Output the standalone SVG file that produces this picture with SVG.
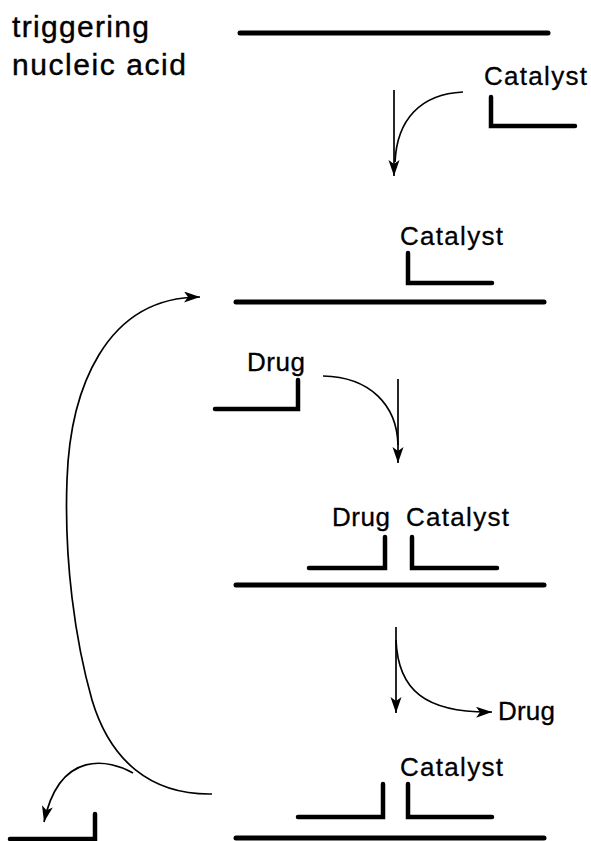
<svg xmlns="http://www.w3.org/2000/svg" width="591" height="841" viewBox="0 0 591 841">
<defs>
<marker id="ah" markerUnits="userSpaceOnUse" markerWidth="18" markerHeight="12" refX="16" refY="5.5" orient="auto">
<path d="M0,0 L16,5.5 L0,11 L4,5.5 Z" fill="#000"/>
</marker>
<style>
.strand{stroke:#000;stroke-width:5;stroke-linecap:round;fill:none}
.oligo{stroke:#000;stroke-width:4.5;stroke-linecap:round;stroke-linejoin:miter;fill:none}
.conn{stroke:#000;stroke-width:1.7;fill:none}
.lbl{font-family:"Liberation Sans",Arial,sans-serif;font-size:26px;fill:#000;stroke:#000;stroke-width:0.3}
.title{font-family:"Liberation Sans",Arial,sans-serif;font-size:30px;fill:#000;stroke:#000;stroke-width:0.4}
</style>
</defs>
<rect width="591" height="841" fill="#fff"/>
<g id="title">
<text class="title" x="12" y="37" textLength="137" lengthAdjust="spacing">triggering</text>
<text class="title" x="12" y="75" textLength="174" lengthAdjust="spacing">nucleic acid</text>
</g>
<g id="stage1">
<line class="strand" x1="240" y1="33" x2="548" y2="33"/>
<text class="lbl" x="484" y="85" textLength="103" lengthAdjust="spacing">Catalyst</text>
<path class="oligo" d="M491,97 V126 H575"/>
</g>
<g id="stage2">
<text class="lbl" x="400" y="245" textLength="103" lengthAdjust="spacing">Catalyst</text>
<path class="oligo" d="M408,253 V283 H492"/>
<line class="strand" x1="236" y1="302" x2="544" y2="302"/>
</g>
<g id="drug-in">
<text class="lbl" x="247" y="371" textLength="58" lengthAdjust="spacing">Drug</text>
<path class="oligo" d="M215,409 H298 V380"/>
</g>
<g id="stage3">
<text class="lbl" x="332" y="526" textLength="58" lengthAdjust="spacing">Drug</text>
<text class="lbl" x="406" y="526" textLength="103" lengthAdjust="spacing">Catalyst</text>
<path class="oligo" d="M309,568 H385 V537"/>
<path class="oligo" d="M412,537 V568 H497"/>
<line class="strand" x1="236" y1="585" x2="544" y2="585"/>
</g>
<g id="drug-out">
<text class="lbl" x="498" y="720" textLength="57" lengthAdjust="spacing">Drug</text>
</g>
<g id="stage4">
<text class="lbl" x="400" y="776" textLength="103" lengthAdjust="spacing">Catalyst</text>
<path class="oligo" d="M298,817 H383 V784"/>
<path class="oligo" d="M408,784 V817 H492"/>
<line class="strand" x1="236" y1="838" x2="544" y2="838"/>
</g>
<g id="released-drug">
<path class="oligo" d="M10,839 H95 V814"/>
</g>
<g id="connectors">
<line class="conn" x1="394" y1="90" x2="394" y2="176" marker-end="url(#ah)"/>
<path class="conn" d="M463,92 C420,94 397,120 395,162"/>
<line class="conn" x1="398" y1="379" x2="398" y2="463" marker-end="url(#ah)"/>
<path class="conn" d="M323,376 C370,377 397,405 398,445"/>
<line class="conn" x1="396" y1="627" x2="396" y2="713" marker-end="url(#ah)"/>
<path class="conn" d="M396,640 C398,690 425,713 492,712" marker-end="url(#ah)"/>
<path class="conn" d="M212,794 C150,795 110,760 92,700 C75,640 64,560 67,480 C70,390 105,297 200,297" marker-end="url(#ah)"/>
<path class="conn" d="M133,773 C110,760 60,748 44,822" marker-end="url(#ah)"/>
</g>
</svg>
